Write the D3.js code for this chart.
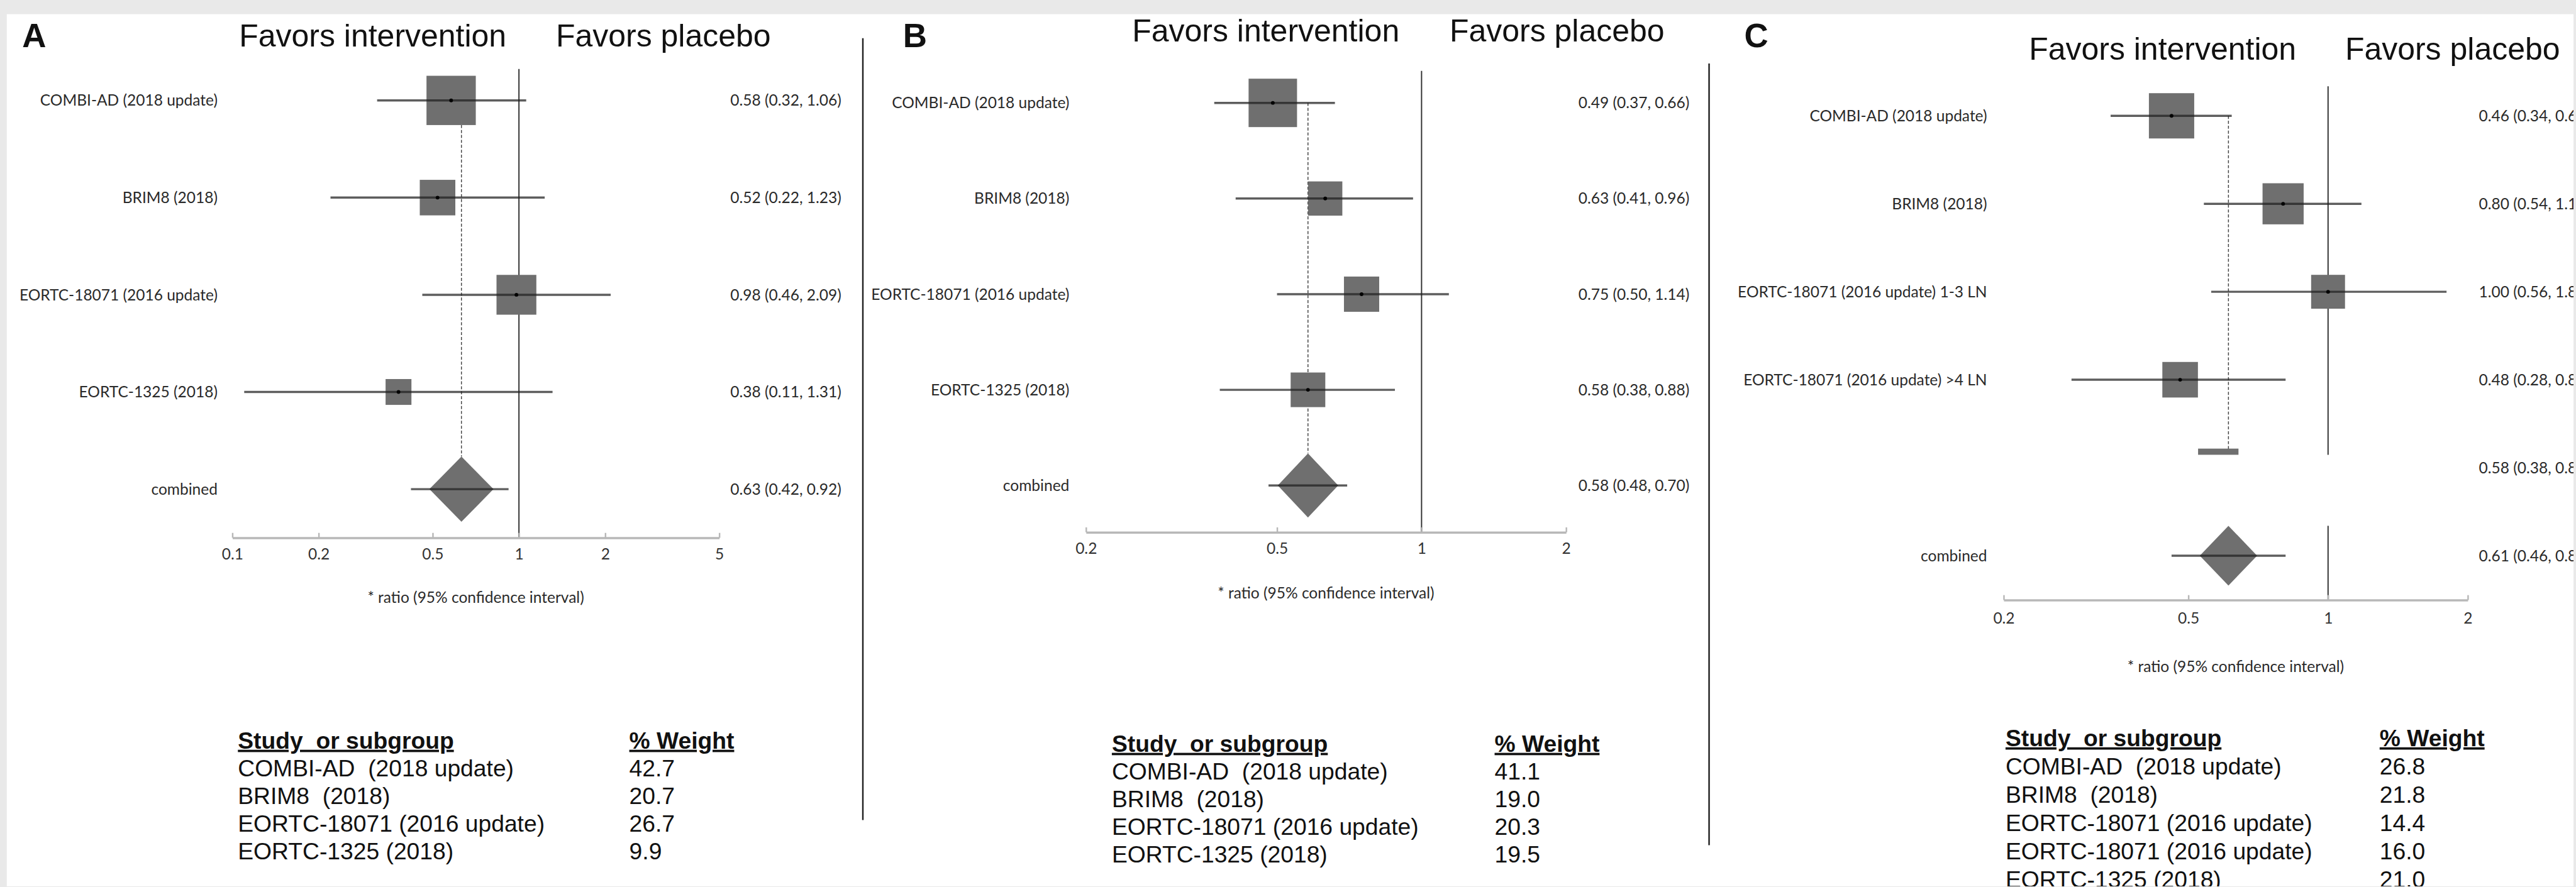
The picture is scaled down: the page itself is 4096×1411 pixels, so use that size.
<!DOCTYPE html>
<html>
<head>
<meta charset="utf-8">
<script src="https://cdnjs.cloudflare.com/ajax/libs/d3/7.8.5/d3.min.js"></script>
<style>
  html, body { margin: 0; padding: 0; overflow: hidden; background: #e9e9e9; }
  .letter { font-family: "Liberation Sans", Arial, sans-serif; font-weight: bold; font-size: 54px; fill: #111; }
  .favors { font-family: "Liberation Sans", Arial, sans-serif; font-size: 51px; fill: #111; }
  .small { font-family: Lato, "Open Sans", sans-serif; font-size: 25px; fill: #2a2a2a; }
  .tbl { font-family: "Liberation Sans", Arial, sans-serif; font-size: 38px; fill: #111; white-space: pre; }
  .tblhead { font-weight: bold; text-decoration: underline; }
</style>
</head>
<body>
<div id="root"></div>
<script>
// forest plot rows
const studiesAB = ["COMBI-AD (2018 update)", "BRIM8 (2018)", "EORTC-18071 (2016 update)", "EORTC-1325 (2018)", "combined"];
const studiesC = ["COMBI-AD (2018 update)", "BRIM8 (2018)", "EORTC-18071 (2016 update) 1-3 LN",
  "EORTC-18071 (2016 update) >4 LN", "", "combined"];

const estA = [0.58, 0.52, 0.98, 0.38, 0.63];
const loA = [0.32, 0.22, 0.46, 0.11, 0.42];
const hiA = [1.06, 1.23, 2.09, 1.31, 0.92];

const estB = [0.49, 0.63, 0.75, 0.58, 0.58];
const loB = [0.37, 0.41, 0.50, 0.38, 0.48];
const hiB = [0.66, 0.96, 1.14, 0.88, 0.70];

const estC = [0.46, 0.80, 1.00, 0.48, 0.58, 0.61];
const loC = [0.34, 0.54, 0.56, 0.28, 0.38, 0.46];
const hiC = [0.62, 1.18, 1.80, 0.81, 0.88, 0.81];

// weight tables
const tableStudiesAB = ["COMBI-AD  (2018 update)", "BRIM8  (2018)", "EORTC-18071 (2016 update)", "EORTC-1325 (2018)"];
const tableStudiesC = ["COMBI-AD  (2018 update)", "BRIM8  (2018)", "EORTC-18071 (2016 update)",
  "EORTC-18071 (2016 update)", "EORTC-1325 (2018)"];
const weightA = [42.7, 20.7, 26.7, 9.9];
const weightB = [41.1, 19.0, 20.3, 19.5];
const weightC = [26.8, 21.8, 14.4, 16.0, 21.0];

const ticksA = [0.1, 0.2, 0.5, 1, 2, 5];
const ticksBC = [0.2, 0.5, 1, 2];

const W = 4176, H = 1439, S = 0.98;

const panels = [
  { letter: "A", labels: studiesAB, est: estA, lo: loA, hi: hiA, weights: weightA, tableLabels: tableStudiesAB,
    ticks: ticksA, domain: [0.1, 5], flat: -1,
    layout: { letterX: 36, headY: 76, favIntX: 388, favPlaX: 902, labelRight: 353, valueX: 1185,
      x0: 377, x1: 1167, axisY: 873, yTop: 163, yBottom: 794, refTop: 112, dw: 104, dh: 106,
      sizeRange: [6.6, 86], tickPad: 17, ratioY: 970, tableX: 386, weightX: 1021, tableY: 1215, tableStep: 45 } },
  { letter: "B", labels: studiesAB, est: estB, lo: loB, hi: hiB, weights: weightB, tableLabels: tableStudiesAB,
    ticks: ticksBC, domain: [0.2, 2], flat: -1,
    layout: { letterX: 1465, headY: 67, favIntX: 1837, favPlaX: 2352, labelRight: 1735, valueX: 2561,
      x0: 1762, x1: 2541, axisY: 864, yTop: 167, yBottom: 788, refTop: 115, dw: 98, dh: 104,
      sizeRange: [6.6, 86], tickPad: 17, ratioY: 963, tableX: 1804, weightX: 2425, tableY: 1220, tableStep: 45 } },
  { letter: "C", labels: studiesC, est: estC, lo: loC, hi: hiC, weights: weightC, tableLabels: tableStudiesC,
    ticks: ticksBC, domain: [0.2, 2], flat: 4,
    layout: { letterX: 2830, headY: 97, favIntX: 3292, favPlaX: 3805, labelRight: 3224, valueX: 4022,
      x0: 3251, x1: 4004, axisY: 974, yTop: 188, yBottom: 902, refTop: 140, dw: 93, dh: 97,
      sizeRange: [4.1, 98.9], tickPad: 20, ratioY: 1082, tableX: 3254, weightX: 3861, tableY: 1211, tableStep: 46,
      flatShift: -26, flatH: 10 } }
];

const dividers = [[1400, 62, 1331], [2773, 103, 1372]];

const svg = d3.select("#root").append("svg")
  .attr("width", Math.round(W * S))
  .attr("height", Math.round(H * S));

const root = svg.append("g").attr("transform", `scale(${S})`);

root.append("rect").attr("width", W).attr("height", H).attr("fill", "#e9e9e9");
root.append("rect").attr("x", 11).attr("y", 23).attr("width", W - 11).attr("height", H - 23).attr("fill", "#fff");

root.selectAll(".divider").data(dividers).join("line")
  .attr("x1", d => d[0]).attr("x2", d => d[0])
  .attr("y1", d => d[1]).attr("y2", d => d[2])
  .attr("stroke", "#222").attr("stroke-width", 2.5);

const fmt = d3.format(".2f");

panels.forEach(p => drawPanel(root, p));

function drawPanel(root, p) {
  const L = p.layout;
  const g = root.append("g");
  const x = d3.scaleLog().domain(p.domain).range([L.x0, L.x1]);
  const y = d3.scalePoint().domain(d3.range(p.labels.length)).range([L.yTop, L.yBottom]);
  const size = d3.scaleSqrt().domain([0, 50]).range(L.sizeRange);
  const last = p.labels.length - 1;
  const yComb = y(last);
  const diamondTop = yComb - L.dh / 2;
  const flatY = p.flat >= 0 ? y(p.flat) + L.flatShift : null;

  g.append("text").attr("class", "letter").attr("x", L.letterX).attr("y", 77).text(p.letter);
  g.append("text").attr("class", "favors").attr("x", L.favIntX).attr("y", L.headY).text("Favors intervention");
  g.append("text").attr("class", "favors").attr("x", L.favPlaX).attr("y", L.headY).text("Favors placebo");

  // line of no effect
  const refSegs = p.flat >= 0
    ? [[L.refTop, flatY + L.flatH / 2], [diamondTop, L.axisY]]
    : [[L.refTop, L.axisY]];
  g.selectAll(".ref").data(refSegs).join("line")
    .attr("x1", x(1)).attr("x2", x(1))
    .attr("y1", d => d[0]).attr("y2", d => d[1])
    .attr("stroke", "#333").attr("stroke-width", 2);

  // pooled estimate line
  g.append("line")
    .attr("x1", x(p.est[last])).attr("x2", x(p.est[last]))
    .attr("y1", y(0)).attr("y2", p.flat >= 0 ? flatY : diamondTop)
    .attr("stroke", "#444").attr("stroke-width", 1.5).attr("stroke-dasharray", "5,3");

  const rows = d3.range(last).filter(i => i !== p.flat);

  g.selectAll(".box").data(rows).join("rect")
    .attr("x", i => x(p.est[i]) - size(p.weights[i]) / 2)
    .attr("y", i => y(i) - size(p.weights[i]) / 2)
    .attr("width", i => size(p.weights[i]))
    .attr("height", i => size(p.weights[i]))
    .attr("fill", "#6f6f6f");

  if (p.flat >= 0) {
    const w = size(p.weights[p.flat]);
    g.append("rect")
      .attr("x", x(p.est[p.flat]) - w / 2).attr("y", flatY - L.flatH / 2)
      .attr("width", w).attr("height", L.flatH)
      .attr("fill", "#6f6f6f");
  }

  // combined diamond
  const cx = x(p.est[last]);
  g.append("path")
    .attr("d", `M${cx - L.dw / 2},${yComb}L${cx},${yComb - L.dh / 2}L${cx + L.dw / 2},${yComb}L${cx},${yComb + L.dh / 2}Z`)
    .attr("fill", "#6f6f6f");

  g.selectAll(".ci").data(rows.concat([last])).join("line")
    .attr("x1", i => x(p.lo[i])).attr("x2", i => x(p.hi[i]))
    .attr("y1", i => y(i)).attr("y2", i => y(i))
    .attr("stroke", "rgba(30,30,30,0.72)").attr("stroke-width", 3.5);

  g.selectAll(".dot").data(rows).join("circle")
    .attr("cx", i => x(p.est[i])).attr("cy", i => y(i)).attr("r", 3)
    .attr("fill", "#000");

  // labels and estimates
  g.selectAll(".lab").data(d3.range(p.labels.length)).join("text")
    .attr("class", "small")
    .attr("x", L.labelRight).attr("y", i => y(i)).attr("dy", "0.35em")
    .attr("text-anchor", "end")
    .text(i => p.labels[i]);

  g.selectAll(".val").data(d3.range(p.labels.length)).join("text")
    .attr("class", "small")
    .attr("x", L.valueX).attr("y", i => y(i)).attr("dy", "0.35em")
    .text(i => `${fmt(p.est[i])} (${fmt(p.lo[i])}, ${fmt(p.hi[i])})`);

  // axis
  const axis = d3.axisBottom(x).tickValues(p.ticks).tickFormat(d3.format("~g"))
    .tickSize(-8).tickSizeOuter(0).tickPadding(L.tickPad);
  const ax = g.append("g").attr("transform", `translate(0,${L.axisY})`).call(axis)
    .attr("font-family", "Lato, 'Open Sans', sans-serif").attr("font-size", 25);
  ax.select(".domain").attr("stroke", "#b8b8b8").attr("stroke-width", 3.5);
  ax.selectAll(".tick line").attr("stroke", "#b8b8b8").attr("stroke-width", 2.5);
  ax.selectAll(".tick text").attr("fill", "#333");

  g.append("text").attr("class", "small")
    .attr("x", (L.x0 + L.x1) / 2).attr("y", L.ratioY).attr("dy", "0.35em")
    .attr("text-anchor", "middle")
    .text("* ratio (95% confidence interval)");

  // weight table
  g.append("text").attr("class", "tbl tblhead").attr("x", L.tableX).attr("y", L.tableY).text("Study  or subgroup");
  g.append("text").attr("class", "tbl tblhead").attr("x", L.weightX).attr("y", L.tableY).text("% Weight");

  g.selectAll(".trow").data(p.tableLabels).join("text")
    .attr("class", "tbl")
    .attr("x", L.tableX).attr("y", (d, i) => L.tableY + L.tableStep * (i + 1))
    .text(d => d);

  g.selectAll(".twt").data(p.weights).join("text")
    .attr("class", "tbl")
    .attr("x", L.weightX).attr("y", (d, i) => L.tableY + L.tableStep * (i + 1))
    .text(d => d3.format(".1f")(d));
}
</script>
</body>
</html>
